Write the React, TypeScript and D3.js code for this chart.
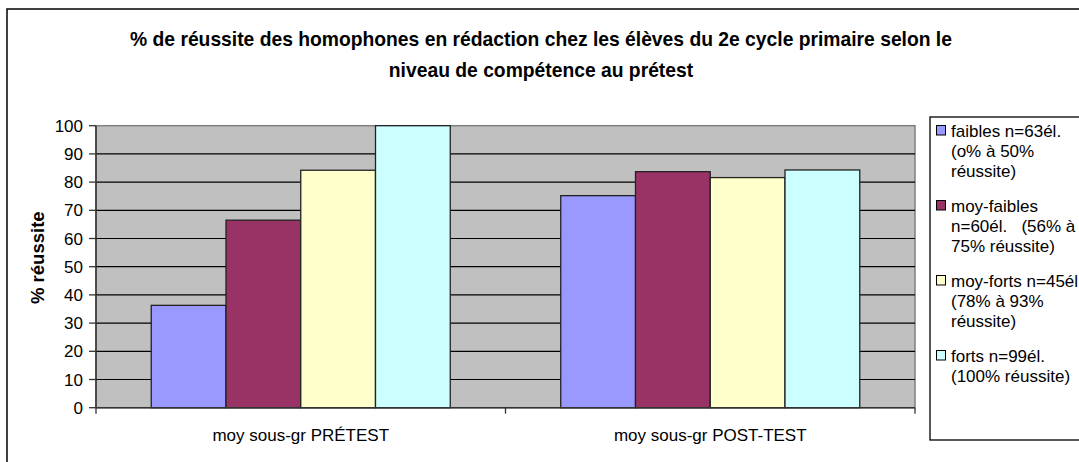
import React from 'react';
import * as d3 from 'd3';

const groups = ['moy sous-gr PRÉTEST', 'moy sous-gr POST-TEST'];
const seriesKeys = ['faibles', 'moyFaibles', 'moyForts', 'forts'];
const faibles = [36.3, 75.2];
const moyFaibles = [66.5, 83.7];
const moyForts = [84.2, 81.6];
const forts = [100, 84.3];
const seriesValues = [faibles, moyFaibles, moyForts, forts];
const seriesColors = ['#9999FF', '#993366', '#FFFFCC', '#CCFFFF'];
const legendLines = [
  ['faibles n=63él.', '(o% à 50%', 'réussite)'],
  ['moy-faibles', 'n=60él.   (56% à', '75% réussite)'],
  ['moy-forts n=45él', '(78% à 93%', 'réussite)'],
  ['forts n=99él.', '(100% réussite)'],
];
const yTicks = [0, 10, 20, 30, 40, 50, 60, 70, 80, 90, 100];
const title1 = '% de réussite des homophones en rédaction chez les élèves du 2e cycle primaire selon le';
const title2 = 'niveau de compétence au prétest';

const W = 1079;
const H = 462;
const font = '"Liberation Sans", Arial, sans-serif';

const App = () => {
  const plot = { left: 96, right: 915, top: 125.7, bottom: 407.7 };

  const x0 = d3.scaleBand().domain(groups).range([plot.left, plot.right]).padding(0);
  const x1 = d3.scaleBand().domain(seriesKeys)
    .range([0, x0.bandwidth()])
    .paddingInner(0)
    .paddingOuter(0.739);
  const y = d3.scaleLinear().domain([0, 100]).range([plot.bottom, plot.top]);

  const legend = { x: 930, y: 117, lineH: 20, itemH: 75, first: 137 };

  return (
    <svg width={W} height={H} style={{ position: 'absolute', left: 0, top: 0 }} fontFamily={font}>
      <rect x={0} y={0} width={W} height={H} fill="#fff" />
      {/* chart frame */}
      <rect x={7} y={9} width={W + 20} height={H + 20} fill="none" stroke="#000" strokeWidth={1.5} />

      <text x={541} y={46} textAnchor="middle" fontSize={19.3} fontWeight="bold">{title1}</text>
      <text x={541} y={77} textAnchor="middle" fontSize={19.3} fontWeight="bold">{title2}</text>

      {/* plot area */}
      <rect x={plot.left} y={plot.top} width={plot.right - plot.left} height={plot.bottom - plot.top}
        fill="#C0C0C0" stroke="#808080" strokeWidth={1.5} />
      {yTicks.filter(t => t > 0 && t < 100).map(t => (
        <line key={t} x1={plot.left} x2={plot.right} y1={y(t)} y2={y(t)} stroke="#000" strokeWidth={1.2} />
      ))}

      {groups.map((g, gi) => (
        <g key={g} transform={`translate(${x0(g)},0)`}>
          {seriesKeys.map((k, si) => (
            <rect key={k} x={x1(k)} y={y(seriesValues[si][gi])} width={x1.bandwidth()}
              height={y(0) - y(seriesValues[si][gi])} fill={seriesColors[si]} stroke="#222" strokeWidth={1.3} />
          ))}
        </g>
      ))}

      {/* y axis */}
      <line x1={plot.left} x2={plot.left} y1={plot.top} y2={plot.bottom} stroke="#333" strokeWidth={1.5} />
      {yTicks.map(t => (
        <g key={t}>
          <line x1={plot.left - 7} x2={plot.left} y1={y(t)} y2={y(t)} stroke="#333" strokeWidth={1.3} />
          <text x={83} y={y(t)} dy="0.36em" textAnchor="end" fontSize={17}>{t}</text>
        </g>
      ))}
      <text transform={`translate(44,${(plot.top + plot.bottom) / 2 - 9}) rotate(-90)`} textAnchor="middle"
        fontSize={18.5} fontWeight="bold">% réussite</text>

      {/* x axis */}
      <line x1={plot.left} x2={plot.right} y1={plot.bottom} y2={plot.bottom} stroke="#333" strokeWidth={1.5} />
      {[plot.left, ...groups.map(g => (x0(g) as number) + x0.bandwidth())].map((tx, i) => (
        <line key={i} x1={tx} x2={tx} y1={plot.bottom} y2={plot.bottom + 6} stroke="#333" strokeWidth={1.3} />
      ))}
      {groups.map(g => (
        <text key={g} x={(x0(g) as number) + x0.bandwidth() / 2} y={441} textAnchor="middle" fontSize={17}>{g}</text>
      ))}

      {/* legend */}
      <rect x={legend.x} y={legend.y} width={200} height={440 - legend.y} fill="#fff" stroke="#000" strokeWidth={1.3} />
      {legendLines.map((lines, i) => {
        const top = legend.first + i * legend.itemH;
        return (
          <g key={i}>
            <rect x={936.5} y={top - 11.5} width={9} height={9.5} fill={seriesColors[i]} stroke="#000" strokeWidth={1} />
            {lines.map((l, j) => (
              <text key={j} x={951} y={top + j * legend.lineH} fontSize={17} xmlSpace="preserve">{l}</text>
            ))}
          </g>
        );
      })}
    </svg>
  );
};

export default App;
